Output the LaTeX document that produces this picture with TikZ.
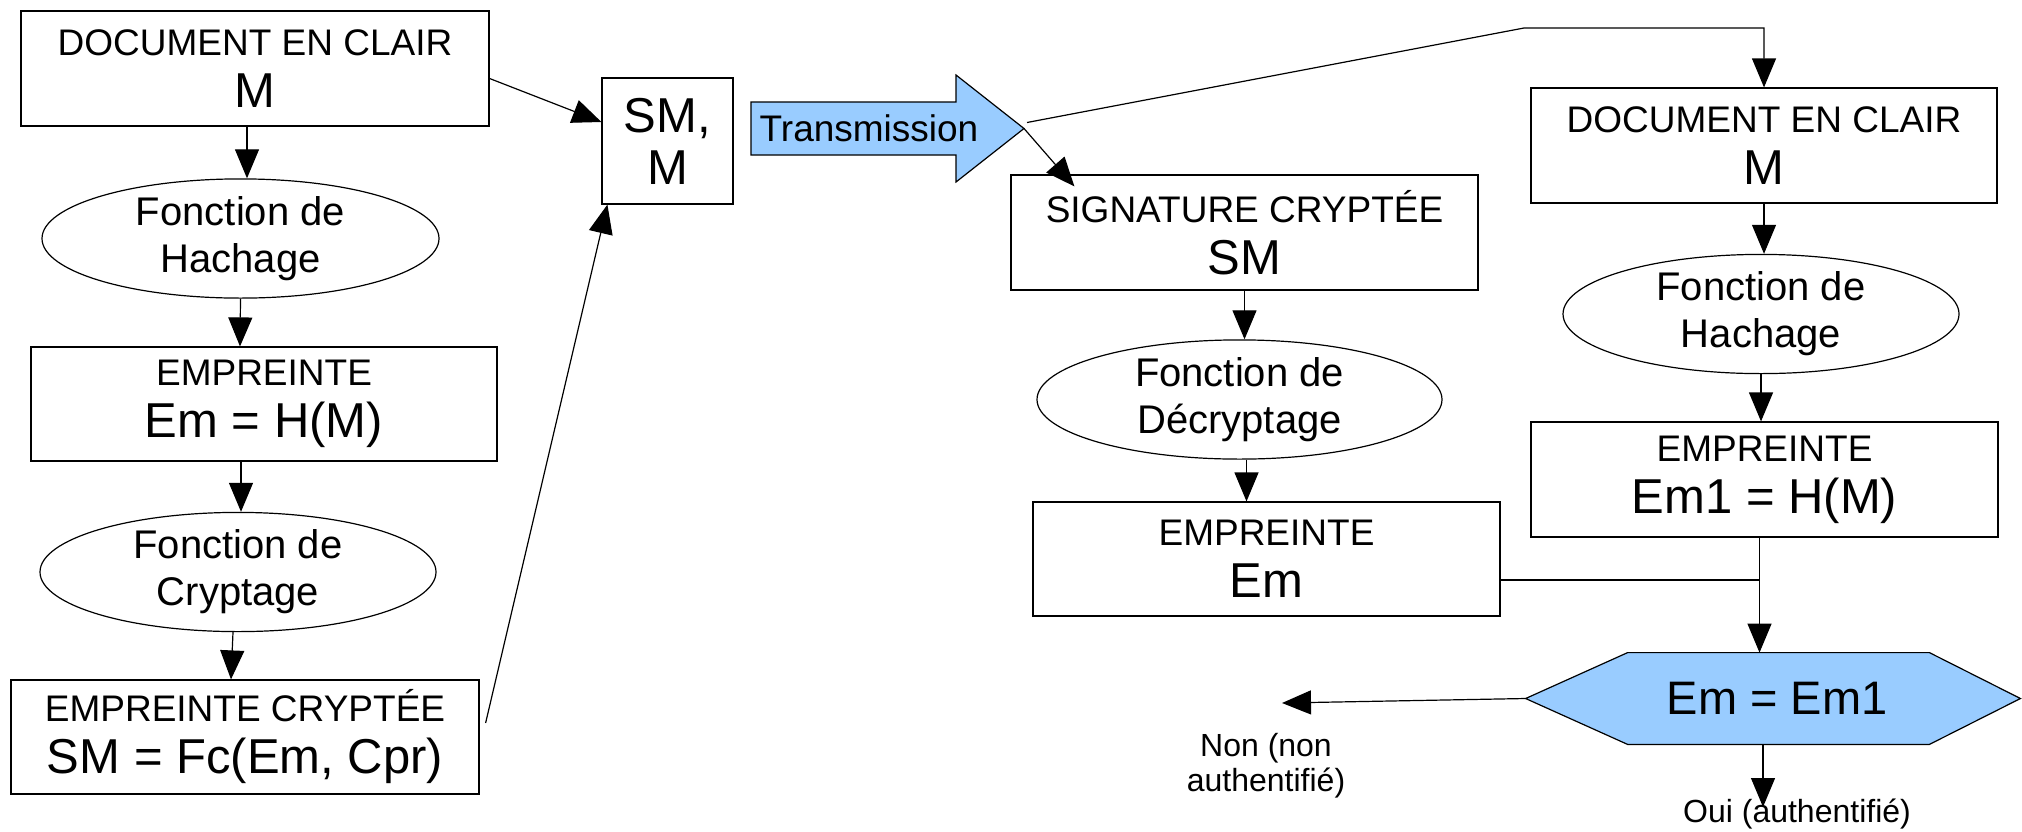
\documentclass[tikz,border=0pt]{standalone}
\usepackage{fontspec}
\setmainfont{Liberation Sans}
\usetikzlibrary{arrows.meta,shapes.geometric}
\definecolor{lblue}{HTML}{99CCFF}
\newcommand\bigt[1]{{\fontsize{24.5}{26}\selectfont #1}}
\tikzset{
  box/.style={draw, line width=0.6pt, inner sep=0pt, align=center,
    font=\fontsize{18.5}{26}\selectfont},
  ell/.style={draw, ellipse, line width=0.6pt, inner sep=0pt, align=center,
    font=\fontsize{20}{23.5}\selectfont},
  arr/.style={line width=0.6pt, -{Triangle[length=14.5pt,width=12pt]}},
  conn/.style={line width=0.6pt},
  lbl/.style={inner sep=0pt, align=center, font=\fontsize{16}{17.5}\selectfont},
}
\begin{document}
\begin{tikzpicture}[x=0.5pt,y=-0.5pt]
\useasboundingbox (0,0) rectangle (2022,831);
% left column
\node[box, minimum width=234pt, minimum height=57.5pt] (docL) at (255,68.5) {DOCUMENT EN CLAIR\\\bigt{M}};
\node[ell, minimum width=198.5pt, minimum height=58.5pt] (hashL) at (240.5,238.5) {Fonction de\\Hachage};
\node[box, minimum width=233pt, minimum height=57pt] (empL) at (264,404) {EMPREINTE\\\bigt{Em = H(M)}};
\node[ell, minimum width=198pt, minimum height=59pt] (cryptL) at (238,572) {Fonction de\\Cryptage};
\node[box, minimum width=234pt, minimum height=57pt] (empcL) at (245,737) {EMPREINTE CRYPTÉE\\\bigt{SM = Fc(Em, Cpr)}};
\node[box, minimum width=65.5pt, minimum height=63pt] (smm) at (667.5,141) {\bigt{SM,}\\\bigt{M}};
% transmission arrow
\coordinate (tip) at (1024,128.5);
\fill[lblue] (751,102) -- (956,102) -- (956,75) -- (tip) -- (956,182) -- (956,155) -- (751,155) -- cycle;
\draw[line width=0.6pt] (751,102) -- (956,102) -- (956,75) -- (tip) -- (956,182) -- (956,155) -- (751,155) -- cycle;
\node[inner sep=0pt, font=\fontsize{18.5}{22}\selectfont] (trans) at (869,128.5) {Transmission};
% middle column
\node[box, minimum width=233.5pt, minimum height=57.5pt] (sigR) at (1244.5,232.5) {SIGNATURE CRYPTÉE\\\bigt{SM}};
\node[ell, minimum width=202.5pt, minimum height=57.5pt] (decR) at (1239.5,399.5) {Fonction de\\Décryptage};
\node[box, minimum width=233.5pt, minimum height=57pt] (emR) at (1266.5,559) {EMPREINTE\\\bigt{Em}};
% right column
\node[box, minimum width=233pt, minimum height=57.5pt] (docR) at (1764,145.5) {DOCUMENT EN CLAIR\\\bigt{M}};
\node[ell, minimum width=198pt, minimum height=59pt] (hashR) at (1761,314) {Fonction de\\Hachage};
\node[box, minimum width=233.5pt, minimum height=57.5pt] (em1R) at (1764.5,479.5) {EMPREINTE\\\bigt{Em1 = H(M)}};
% decision hexagon
\node[inner sep=0pt, minimum width=247pt, minimum height=45.5pt] (hex) at (1773,698.5) {};
\filldraw[fill=lblue, draw=black, line width=0.6pt] (hex.west) -- ([xshift=51pt]hex.north west) -- ([xshift=-45.5pt]hex.north east) -- (hex.east) -- ([xshift=-45.5pt]hex.south east) -- ([xshift=51pt]hex.south west) -- cycle;
\node[inner sep=0pt, font=\fontsize{23.5}{26}\selectfont] (hext) at (1777,698.5) {Em = Em1};
% labels
\node[lbl] (non) at (1266,766) {Non (non\\authentifié)};
\node[lbl, anchor=base] (oui) at (1797,822) {Oui (authentifié)};
\coordinate (nonend) at (1282,703);
\coordinate (ouiend) at (1763,807);
\coordinate (bend) at (1524,28);
% connectors left
\draw[arr] ([xshift=-4pt]docL.south) -- ([xshift=3.25pt]hashL.north);
\draw[arr] (hashL.south) -- ([xshift=-12pt]empL.north);
\draw[arr] ([xshift=-11.5pt]empL.south) -- ([xshift=1.5pt]cryptL.north);
\draw[arr] ([xshift=-2.5pt]cryptL.south) -- ([xshift=-7pt]empcL.north);
\draw[arr] ([yshift=-5pt]docL.east) -- ([yshift=9.5pt]smm.west);
\draw[arr] ([yshift=7pt,xshift=3pt]empcL.east) -- ([xshift=3pt]smm.south west);
% transmission connectors
\draw[arr] ([xshift=1.5pt,yshift=3pt]tip) -- (bend) -- (docR.north |- bend) -- (docR.north);
\draw[arr] (tip) -- ([xshift=32pt,yshift=-6pt]sigR.north west);
% middle connectors
\draw[arr] (sigR.south) -- (sigR.south |- decR.north);
\draw[arr] ([xshift=3.5pt]decR.south) -- ([xshift=-10pt]emR.north);
% right connectors
\draw[arr] (docR.south) -- (docR.south |- hashR.north);
\draw[arr] (hashR.south) -- (hashR.south |- em1R.north);
\coordinate (vx) at ([xshift=-2.5pt]em1R.south);
\draw[arr] (vx) -- (vx |- hex.north);
\coordinate (ey) at ([yshift=-10.5pt]emR.east);
\draw[conn] (ey) -- (ey -| vx);
\draw[arr] (hex.west) -- (nonend);
\draw[arr] (hex.south -| ouiend) -- (ouiend);
\end{tikzpicture}
\end{document}
